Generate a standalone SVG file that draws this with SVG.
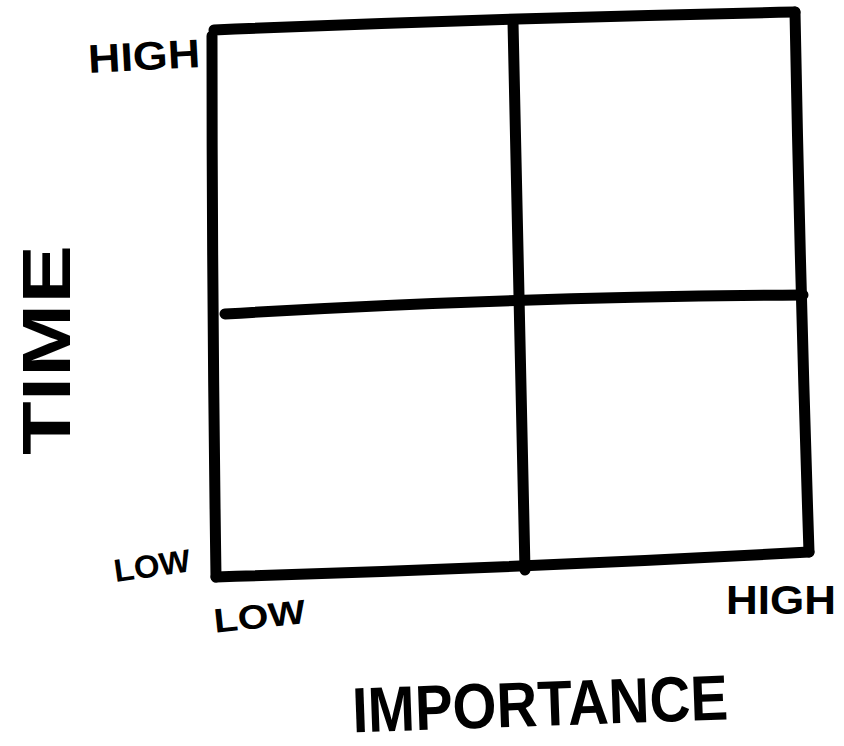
<svg xmlns="http://www.w3.org/2000/svg" width="844" height="746" viewBox="0 0 844 746">
<style>
.ln{fill:none;stroke:#000;stroke-width:11;stroke-linecap:round;stroke-linejoin:round}
.lb{font-family:"Liberation Sans",Arial,sans-serif;font-weight:bold;fill:#000}
</style>
<rect width="844" height="746" fill="#fff"/>
<g id="connectors">
<path class="ln" d="M214,30 Q500,18 795,12"/>
<path class="ln" d="M212,36 Q212,300 216,577"/>
<path class="ln" d="M795,12 Q800,280 809,552"/>
<path class="ln" d="M216,577 Q520,568 809,552"/>
<path class="ln" d="M513,22 Q518,300 525,570"/>
<path class="ln" d="M225,314 Q500,297 803,295"/>
</g>
<g id="high-y"><text class="lb" x="88" y="70" font-size="40" textLength="112" lengthAdjust="spacingAndGlyphs" transform="rotate(-3 144 55)">HIGH</text></g>
<g id="time"><text class="lb" font-size="68" textLength="210" lengthAdjust="spacingAndGlyphs" transform="translate(70,455) rotate(-90)" x="0" y="0">TIME</text></g>
<g id="low-y"><text class="lb" x="113" y="577" font-size="32" textLength="77" lengthAdjust="spacingAndGlyphs" transform="rotate(-8 150 562)">LOW</text></g>
<g id="low-x"><text class="lb" x="213" y="628" font-size="34" textLength="92" lengthAdjust="spacingAndGlyphs" transform="rotate(-6 260 612)">LOW</text></g>
<g id="high-x"><text class="lb" x="726" y="614" font-size="40" textLength="110" lengthAdjust="spacingAndGlyphs">HIGH</text></g>
<g id="importance"><text class="lb" x="352" y="726" font-size="64" textLength="376" lengthAdjust="spacingAndGlyphs" transform="rotate(-2 540 704)">IMPORTANCE</text></g>
</svg>
